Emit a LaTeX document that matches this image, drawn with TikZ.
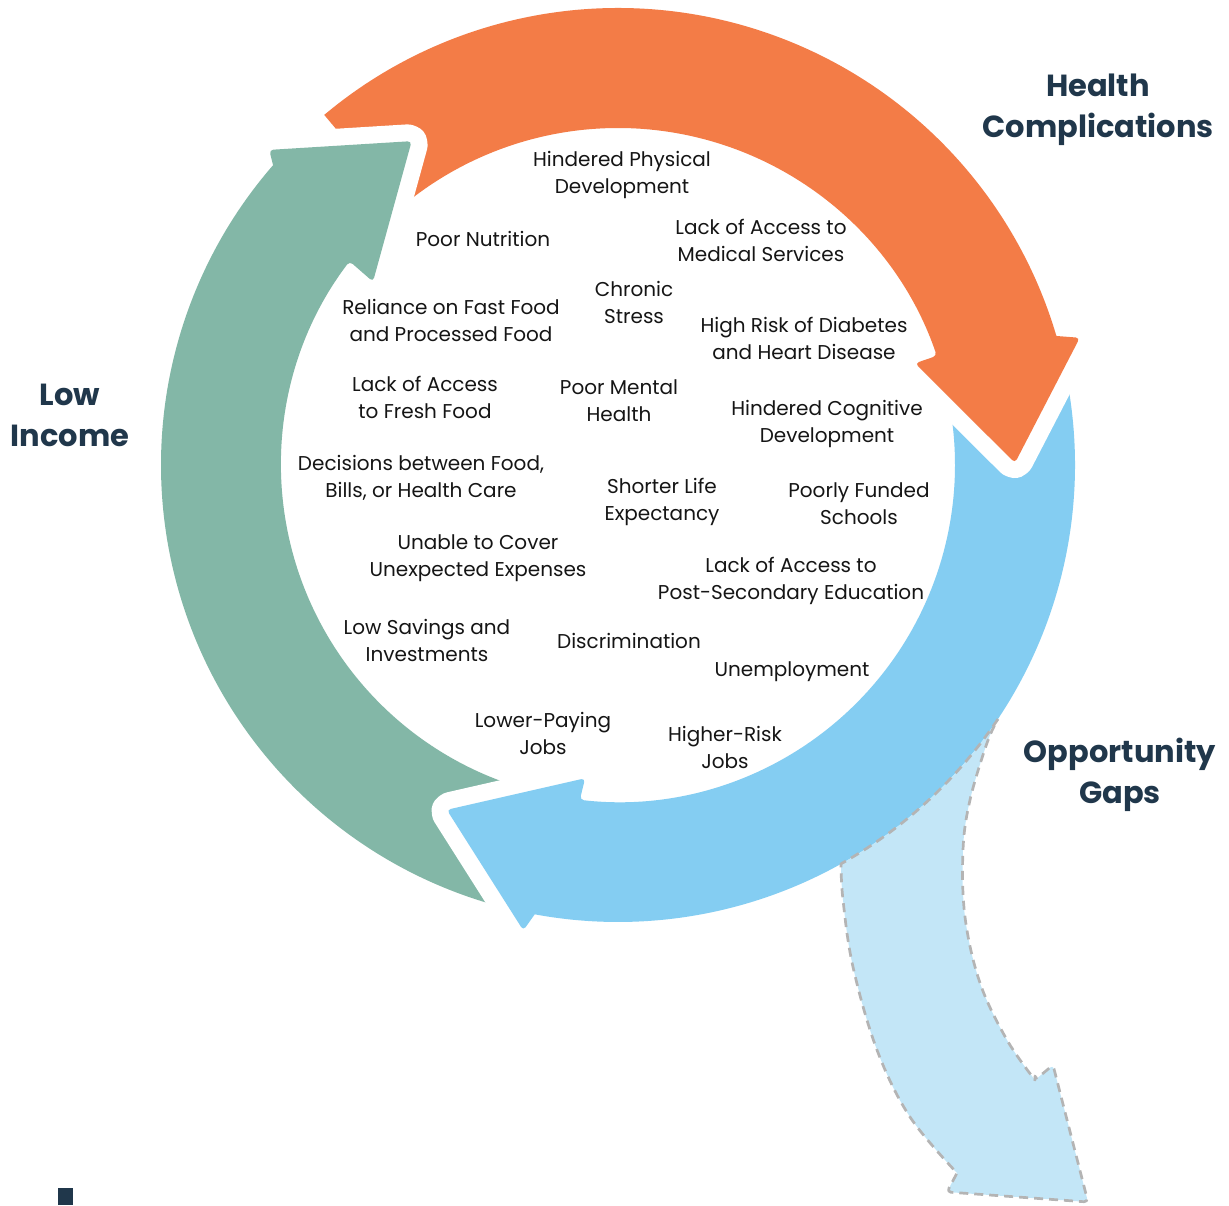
\documentclass[tikz,border=0pt]{standalone}
\usepackage{fontspec}
\setmainfont{Poppins}
\definecolor{orng}{HTML}{F37C47}
\definecolor{grn}{HTML}{83B7A7}
\definecolor{blu}{HTML}{84CDF2}
\definecolor{lblu}{HTML}{C3E6F7}
\definecolor{dgray}{HTML}{B4B4B4}
\definecolor{navy}{HTML}{20374B}
\definecolor{txtc}{HTML}{151515}
\newcommand\GreenShape{(254:457) arc[start angle=254,end angle=139,radius=457] [rounded corners=4] -- (137.9:470) -- (122.5:384) -- (143.2:306) -- (142.8:337) [sharp corners] arc[start angle=142.8,end angle=254,radius=337] -- cycle}
\newcommand\OrangeShape{(130:457) arc[start angle=130,end angle=16.4,radius=457] [rounded corners=4] -- (15.4:479) -- (0.3:397) -- (18.9:314) -- (18.9:337) [sharp corners] arc[start angle=18.9,end angle=130,radius=337] -- cycle}
\newcommand\BlueShape{(11:457) arc[start angle=11,end angle=-100.5,radius=457] [rounded corners=4] -- (-101.5:475) -- (-116.4:385) -- (-96:315) -- (-96.5:337) [sharp corners] arc[start angle=-96.5,end angle=11,radius=337] -- cycle}
\begin{document}
\begin{tikzpicture}[x=1pt,y=1pt,
  halo/.style={draw=white,line width=34,line join=round},
  txt/.style={align=center,inner sep=0pt,text=txtc,font=\fontsize{20}{27}\selectfont},
  head/.style={align=center,inner sep=0pt,text=navy,font=\fontsize{30.5}{41}\selectfont\bfseries}]
\useasboundingbox (0,0) rectangle (1229,1205);
\begin{scope}[shift={(618,740)}]
  \path[halo] \GreenShape;
  \path[fill=grn] \GreenShape;
  \path[halo] \BlueShape;
  \path[fill=blu] \BlueShape;
  \path[halo] \OrangeShape;
  \path[fill=orng] \OrangeShape;
  \begin{scope}
    \clip (-618,-140) rectangle (82,465);
    \path[halo] \GreenShape;
    \path[fill=grn] \GreenShape;
  \end{scope}
\end{scope}
% light dashed arrow
\path[fill=lblu,draw=dgray,line width=2.7,dash pattern=on 9 off 6,line join=round]
  (998,486) arc[start angle=-33.8,end angle=-60.8,radius=457]
  -- plot[smooth,tension=0.6] coordinates {(841,341) (843,305) (853,238) (877,155) (910,88) (957,32)}
  [rounded corners=4] -- (947,13) -- (1088,3) -- (1053,140) -- (1035,125) [sharp corners]
  -- plot[smooth,tension=0.6] coordinates {(1035,125) (1007,165) (980,222) (965,288) (963,355) (970,405) (987,462) (998,486)}
  -- cycle;
\fill[navy] (58,0) rectangle (73,17);
% texts
\node[txt] (n1) at (622,1030) {Hindered Physical\\Development};
\node[txt] (n2) at (483,966) {Poor Nutrition};
\node[txt] (n3) at (761,965) {Lack of Access to\\Medical Services};
\node[txt] (n4) at (634,903) {Chronic\\Stress};
\node[txt] (n5) at (451,885) {Reliance on Fast Food\\and Processed Food};
\node[txt] (n6) at (804,867) {High Risk of Diabetes\\and Heart Disease};
\node[txt] (n7) at (425,808) {Lack of Access\\to Fresh Food};
\node[txt] (n8) at (619,804) {Poor Mental\\Health};
\node[txt] (n9) at (827,781) {Hindered Cognitive\\Development};
\node[txt] (n10) at (421,727) {Decisions between Food,\\Bills, or Health Care};
\node[txt] (n11) at (662,703) {Shorter Life\\Expectancy};
\node[txt] (n12) at (859,701) {Poorly Funded\\Schools};
\node[txt] (n13) at (478,647) {Unable to Cover\\Unexpected Expenses};
\node[txt] (n14) at (791,624) {Lack of Access to\\Post-Secondary Education};
\node[txt] (n15) at (427,565) {Low Savings and\\Investments};
\node[txt] (n16) at (629,564) {Discrimination};
\node[txt] (n17) at (792,533) {Unemployment};
\node[txt] (n18) at (543,472) {Lower-Paying\\Jobs};
\node[txt] (n19) at (725,458) {Higher-Risk\\Jobs};
\node[head] (h1) at (1098,1095) {Health\\Complications};
\node[head] (h2) at (70,790) {Low\\Income};
\node[head] (h3) at (1120,430) {Opportunity\\Gaps};
\end{tikzpicture}
\end{document}
